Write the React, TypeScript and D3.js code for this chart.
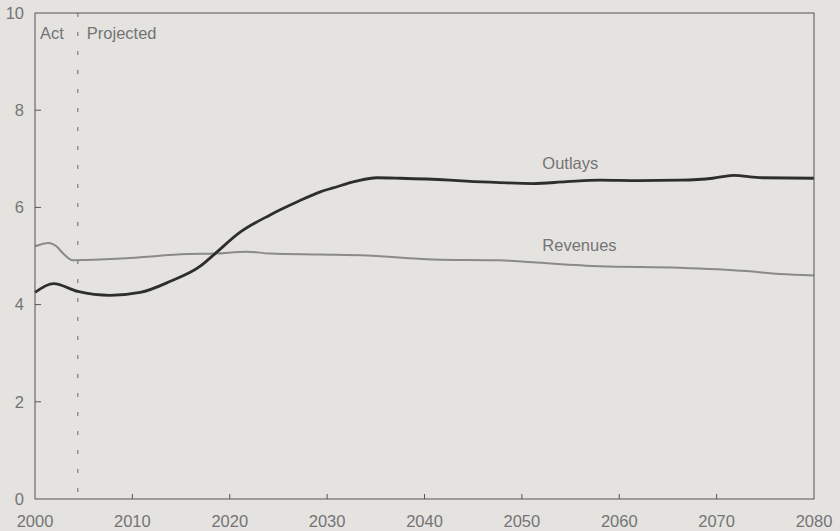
import { useMemo } from 'react';
import { scaleLinear, line as d3line, curveMonotoneX } from 'd3';

const W = 840;
const H = 531;
const M = { top: 13, right: 26, bottom: 32, left: 35 };
const IW = W - M.left - M.right;
const IH = H - M.top - M.bottom;

const X_TICKS = [2000, 2010, 2020, 2030, 2040, 2050, 2060, 2070, 2080];
const Y_TICKS = [0, 2, 4, 6, 8, 10];
const SPLIT_YEAR = 2004.4;

const OUTLAY_YEARS = [2000, 2001.9, 2004.4, 2007.7, 2010.8, 2013.9, 2016.9, 2018.5, 2021, 2024.1, 2027, 2029.3, 2030.6, 2033, 2035.1, 2037.5, 2042.6, 2044.3, 2047.7, 2051.1, 2054.6, 2058, 2062, 2066.2, 2069.6, 2071.7, 2074.7, 2080];
const OUTLAYS = [4.25, 4.43, 4.27, 4.19, 4.25, 4.48, 4.78, 5.05, 5.48, 5.84, 6.12, 6.32, 6.4, 6.54, 6.61, 6.6, 6.56, 6.54, 6.51, 6.49, 6.53, 6.56, 6.55, 6.56, 6.6, 6.66, 6.61, 6.6];

const REVENUE_YEARS = [2000, 2001.4, 2002.2, 2002.9, 2003.9, 2005.3, 2009.8, 2015.6, 2018.5, 2021.7, 2024.1, 2029.3, 2034.1, 2040.9, 2047.7, 2051.1, 2058, 2066.2, 2073.1, 2076.5, 2080];
const REVENUES = [5.2, 5.27, 5.2, 5.05, 4.91, 4.92, 4.96, 5.04, 5.05, 5.09, 5.05, 5.03, 5.01, 4.93, 4.91, 4.87, 4.79, 4.76, 4.69, 4.63, 4.6];

const LABELS = [
  { text: 'Outlays', year: 2052.1, value: 6.78 },
  { text: 'Revenues', year: 2052.1, value: 5.1 },
];

const FONT = '"Liberation Sans", Arial, sans-serif';
const FS = 16.5;
const TEXT = '#747474';
const AXIS = '#555';

export default function App() {
  const x = useMemo(() => scaleLinear().domain([2000, 2080]).range([0, IW]), []);
  const y = useMemo(() => scaleLinear().domain([0, 10]).range([IH, 0]), []);

  const gen = d3line<[number, number]>()
    .x((d) => x(d[0]))
    .y((d) => y(d[1]))
    .curve(curveMonotoneX);

  const outlayPath = gen(OUTLAY_YEARS.map((yr, i) => [yr, OUTLAYS[i]])) ?? '';
  const revenuePath = gen(REVENUE_YEARS.map((yr, i) => [yr, REVENUES[i]])) ?? '';

  return (
    <div style={{ position: 'fixed', inset: 0, background: '#e4e3e0' }}>
      <svg width={W} height={H} style={{ display: 'block' }}>
        <g transform={`translate(${M.left},${M.top})`}>
          <line
            x1={x(SPLIT_YEAR)}
            x2={x(SPLIT_YEAR)}
            y1={0}
            y2={IH}
            stroke="#666"
            strokeWidth={1}
            strokeDasharray="4 15"
          />
          <path d={revenuePath} fill="none" stroke="#8a8a8a" strokeWidth={2} />
          <path d={outlayPath} fill="none" stroke="#2e2e2e" strokeWidth={2.8} />

          <rect x={0} y={0} width={IW} height={IH} fill="none" stroke={AXIS} strokeWidth={1} />

          {Y_TICKS.map((t) => (
            <g key={t} transform={`translate(0,${y(t)})`}>
              {t > 0 && t < 10 && <line x1={0} x2={6} stroke={AXIS} />}
              <text x={-11} dy="0.35em" textAnchor="end" fontSize={FS} fontFamily={FONT} fill={TEXT}>
                {t}
              </text>
            </g>
          ))}

          {X_TICKS.map((t) => (
            <g key={t} transform={`translate(${x(t)},${IH})`}>
              {t > 2000 && t < 2080 && <line y1={0} y2={-5} stroke={AXIS} />}
              <text y={28} textAnchor="middle" fontSize={FS} fontFamily={FONT} fill={TEXT}>
                {t}
              </text>
            </g>
          ))}

          <text x={5} y={26} fontSize={FS} fontFamily={FONT} fill={TEXT}>
            Act
          </text>
          <text x={x(SPLIT_YEAR) + 9} y={26} fontSize={FS} fontFamily={FONT} fill={TEXT}>
            Projected
          </text>

          {LABELS.map((l) => (
            <text key={l.text} x={x(l.year)} y={y(l.value)} fontSize={FS} fontFamily={FONT} fill={TEXT}>
              {l.text}
            </text>
          ))}
        </g>
      </svg>
    </div>
  );
}
